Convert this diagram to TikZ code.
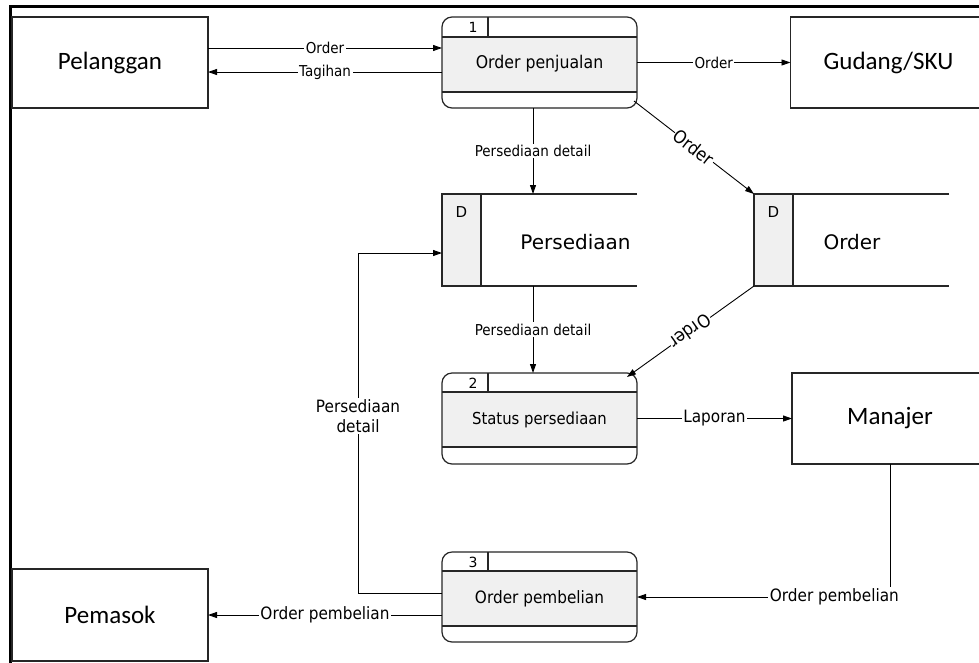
\documentclass[tikz,border=0pt]{standalone}
\usepackage{fontspec}
\setmainfont{DejaVu Sans}
\newfontfamily\calfont{Carlito}
\newfontfamily\condfont[FakeStretch=0.9]{DejaVu Sans}
\usetikzlibrary{arrows.meta,calc}
\definecolor{bandgray}{HTML}{F0F0F0}
\tikzset{
  bord/.style={draw=black!85, line width=1.2pt},
  ent/.style={bord, minimum width=196pt, minimum height=91pt, inner sep=0pt, outer sep=0pt, font=\calfont\fontsize{25}{30}\selectfont},
  proc/.style={bord, rounded corners=10pt, minimum width=195pt, minimum height=91pt, inner sep=0pt, outer sep=0pt},
  store/.style={minimum width=195pt, minimum height=92pt, inner sep=0pt, outer sep=0pt},
  ptext/.style={inner sep=0pt, font=\condfont\fontsize{17.5}{20}\selectfont},
  stext/.style={inner sep=0pt, font=\fontsize{20}{24}\selectfont},
  numtext/.style={inner sep=0pt, font=\fontsize{14}{16}\selectfont},
  conn/.style={line width=0.9pt, -{Triangle[length=9pt,width=6pt]}},
  lbl/.style={fill=white, inner sep=1.5pt, font=\condfont\fontsize{15}{18}\selectfont},
  lblb/.style={fill=white, inner sep=1.5pt, font=\condfont\fontsize{17}{20}\selectfont},
  lblr/.style={fill=white, inner sep=1pt, sloped, font=\condfont\fontsize{18}{20}\selectfont},
}
\begin{document}
\begin{tikzpicture}[x=1pt,y=-1pt]
\useasboundingbox (0,0) rectangle (979,662);
\clip (0,0) rectangle (979,662);
\fill[white] (0,0) rectangle (979,662);
% frame
\draw[line width=3pt] (985,6.5) -- (10.5,6.5) -- (10.5,670);

% external entities
\node[ent] (pel) at (110,62.5) {Pelanggan};
\node[ent] (gud) at (888.5,62.5) {Gudang/SKU};
\node[ent] (man) at (890,418.5) {Manajer};
\node[ent, minimum height=92pt] (pem) at (110,615) {Pemasok};

% process 1
\fill[bandgray] (442,37) rectangle (637,92);
\node[proc] (p1) at (539.5,62.5) {};
\draw[bord] (442,37) -- (637,37) (442,92) -- (637,92) (488,17) -- (488,37);
\node[numtext] (p1n) at (473,27.5) {1};
\node[ptext] (p1t) at (539.5,64) {Order penjualan};

% process 2
\fill[bandgray] (442,392) rectangle (637,447);
\node[proc] (p2) at (539.5,418.5) {};
\draw[bord] (442,392) -- (637,392) (442,447) -- (637,447) (488,373) -- (488,392);
\node[numtext] (p2n) at (473,383) {2};
\node[ptext, font=\condfont\fontsize{16.5}{20}\selectfont] (p2t) at (539.5,420) {Status persediaan};

% process 3
\fill[bandgray] (442,571) rectangle (637,626);
\node[proc, minimum height=90pt] (p3) at (539.5,597) {};
\draw[bord] (442,571) -- (637,571) (442,626) -- (637,626) (488,552) -- (488,571);
\node[numtext] (p3n) at (473,562) {3};
\node[ptext, font=\condfont\fontsize{17}{20}\selectfont] (p3t) at (539.5,599) {Order pembelian};

% data store Persediaan
\fill[bandgray] (442,194) rectangle (481,286);
\node[store] (ds1) at (539.5,240) {};
\draw[bord] (637,194) -- (442,194) -- (442,286) -- (637,286) (481,194) -- (481,286);
\node[numtext, font=\fontsize{15}{17}\selectfont] (ds1d) at (461.5,212) {D};
\node[stext] (ds1t) at (575.5,242) {Persediaan};

% data store Order
\fill[bandgray] (754,194) rectangle (793,286);
\node[store] (ds2) at (851.5,240) {};
\draw[bord] (949,194) -- (754,194) -- (754,286) -- (949,286) (793,194) -- (793,286);
\node[numtext, font=\fontsize{15}{17}\selectfont] (ds2d) at (773.5,212) {D};
\node[stext] (ds2t) at (852,242) {Order};

% connectors
\draw[conn] ([yshift=14.5pt]pel.east) -- ([yshift=14.5pt]pel.east -| p1.west) node[lbl,midway] {Order};
\draw[conn] ([yshift=-9.5pt]p1.west) -- ([yshift=-9.5pt]p1.west -| pel.east) node[lbl,midway] {Tagihan};
\draw[conn] (p1.east) -- (gud.west) node[lbl,midway] {Order};
\draw[conn] ([xshift=-6.5pt]p1.south) -- ([xshift=-6.5pt]p1.south |- ds1.north) node[lbl,midway] {Persediaan detail};
\coordinate (p1c) at ($(p1.south east)+(-3,-7)$);
\draw[conn] (p1c) -- (ds2.north west) node[lblr,pos=0.5] {Order};
\draw[conn] ([xshift=-6.5pt]ds1.south) -- ([xshift=-6.5pt]ds1.south |- p2.north) node[lbl,midway] {Persediaan detail};
\coordinate (p2c) at ($(p2.north east)+(-10,4)$);
\draw[conn] (ds2.south west) -- (p2c) node[lblr,allow upside down,pos=0.5] {Order};
\draw[conn] (p2.east) -- (man.west) node[lblb,midway] {Laporan};
\draw[conn] (man.south) |- (p3.east) node[lblb,pos=0.61] {Order pembelian};
\draw[conn] ([yshift=-18pt]p3.west) -- ([yshift=-18pt]p3.west -| pem.east) node[lblb,midway] {Order pembelian};
\draw[conn] ([yshift=4pt]p3.west) -- ++(-84,0) |- ([yshift=-13pt]ds1.west) node[lblb,pos=0.26,align=center] {Persediaan\\detail};
\end{tikzpicture}
\end{document}
